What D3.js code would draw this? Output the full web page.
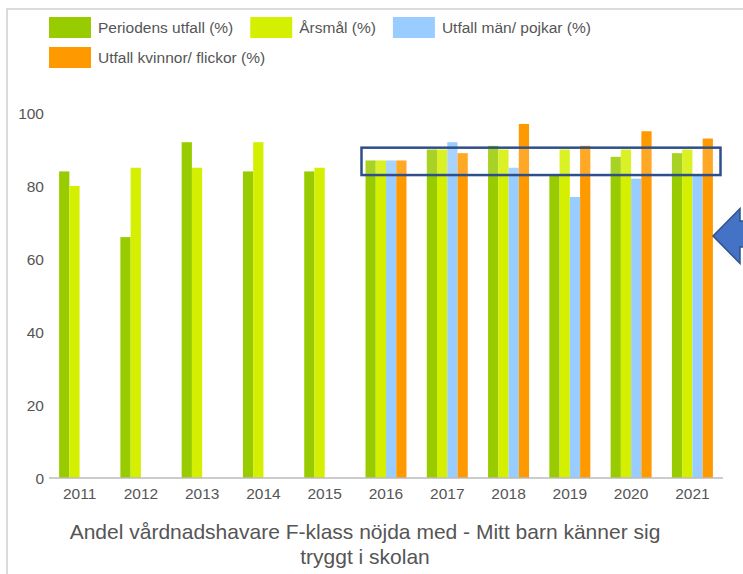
<!DOCTYPE html>
<html>
<head>
  <meta charset='utf-8' />
  <title>Trygghet F-klass</title>
  <style>
    html, body { margin: 0; padding: 0; background: #fff; }
    body { width: 743px; height: 574px; overflow: hidden; }
    svg { display: block; font-family: 'Liberation Sans', Arial, sans-serif; }
    .tick-label { fill: #555; font-size: 15.5px; }
    .legend-label { fill: #555; font-size: 15.5px; }
    .title { fill: #555; font-size: 21px; }
  </style>
</head>
<body>
<div id='chart'></div>
<script src="https://cdn.jsdelivr.net/npm/d3@7"></script>
<script>
  // data
  const years = ['2011', '2012', '2013', '2014', '2015', '2016', '2017', '2018', '2019', '2020', '2021']
  const seriesNames = ['Periodens utfall (%)', 'Årsmål (%)', 'Utfall män/ pojkar (%)', 'Utfall kvinnor/ flickor (%)']
  const periodensUtfall = [84, 66, 92, 84, 84, 87, 90, 91, 83, 88, 89]
  const arsmal = [80, 85, 85, 92, 85, 87, 90, 90, 90, 90, 90]
  const utfallPojkar = [null, null, null, null, null, 87, 92, 85, 77, 82, 83]
  const utfallFlickor = [null, null, null, null, null, 87, 89, 97, 91, 95, 93]
  const yTicks = [0, 20, 40, 60, 80, 100]
  const titleLines = ['Andel vårdnadshavare F-klass nöjda med - Mitt barn känner sig', 'tryggt i skolan']
  // highlighted range (the box drawn over the bars)
  const boxRange = [83, 90.5]

  const colors = ['#99cc00', '#d4ef00', '#99ccff', '#ff9900']
  const seriesValues = [periodensUtfall, arsmal, utfallPojkar, utfallFlickor]

  const width = 743
  const height = 574

  const svg = d3.select('#chart').append('svg')
    .attr('width', width)
    .attr('height', height)

  // panel border (top + left)
  svg.append('path')
    .attr('d', `M7,${height} V9 H${width}`)
    .attr('fill', 'none')
    .attr('stroke', '#cfcfcf')
    .attr('stroke-width', 1.5)

  const x0 = d3.scaleBand()
    .domain(years)
    .range([49, 723])
    .paddingInner(0.331)
    .paddingOuter(0.165)

  const x1 = d3.scaleBand()
    .domain(d3.range(seriesNames.length))
    .range([0, x0.bandwidth()])

  const y = d3.scaleLinear()
    .domain([0, 100])
    .range([478, 113])

  // y labels
  svg.append('g')
    .selectAll('text')
    .data(yTicks)
    .join('text')
    .attr('class', 'tick-label')
    .attr('x', 44)
    .attr('y', d => y(d) + 5.5)
    .attr('text-anchor', 'end')
    .text(d => d)

  // bars
  const rows = []
  years.forEach((yr, i) => {
    seriesValues.forEach((vals, s) => {
      if (vals[i] != null) rows.push({ year: yr, s, value: vals[i] })
    })
  })

  svg.append('g')
    .selectAll('rect')
    .data(rows)
    .join('rect')
    .attr('x', d => x0(d.year) + x1(d.s))
    .attr('y', d => y(d.value))
    .attr('width', x1.bandwidth())
    .attr('height', d => y(0) - y(d.value))
    .attr('fill', d => colors[d.s])

  // baseline
  svg.append('line')
    .attr('x1', 49).attr('x2', 723)
    .attr('y1', y(0)).attr('y2', y(0))
    .attr('stroke', '#bbb')
    .attr('stroke-width', 1.5)

  // x labels
  svg.append('g')
    .selectAll('text')
    .data(years)
    .join('text')
    .attr('class', 'tick-label')
    .attr('x', d => x0(d) + x0.bandwidth() / 2)
    .attr('y', 498.5)
    .attr('text-anchor', 'middle')
    .text(d => d)

  // legend, wraps when it runs out of room
  const legend = svg.append('g')
  let lx = 49
  let ly = 17
  seriesNames.forEach((name, i) => {
    const item = legend.append('g')
    item.append('rect')
      .attr('width', 42).attr('height', 21)
      .attr('fill', colors[i])
    const t = item.append('text')
      .attr('class', 'legend-label')
      .attr('x', 49)
      .attr('y', 16)
      .text(name)
    const w = 49 + t.node().getComputedTextLength()
    if (lx + w > 640) {
      lx = 49
      ly += 30
    }
    item.attr('transform', `translate(${lx},${ly})`)
    lx += w + 17
  })

  // highlight box
  svg.append('rect')
    .attr('x', 361.5)
    .attr('y', y(boxRange[1]))
    .attr('width', 359)
    .attr('height', y(boxRange[0]) - y(boxRange[1]))
    .attr('fill', 'rgba(255,255,255,0.15)')
    .attr('stroke', '#2f4f8a')
    .attr('stroke-width', 2.5)

  // arrow pointing at the chart
  svg.append('path')
    .attr('d', 'M713,236 L740,208.5 L740,221 L760,221 L760,247 L740,247 L740,263.5 Z')
    .attr('fill', '#4472c4')
    .attr('stroke', '#2f528f')
    .attr('stroke-width', 1.5)

  // title
  svg.append('g')
    .selectAll('text')
    .data(titleLines)
    .join('text')
    .attr('class', 'title')
    .attr('x', 365)
    .attr('y', (d, i) => 539 + i * 25)
    .attr('text-anchor', 'middle')
    .text(d => d)
</script>
</body>
</html>
